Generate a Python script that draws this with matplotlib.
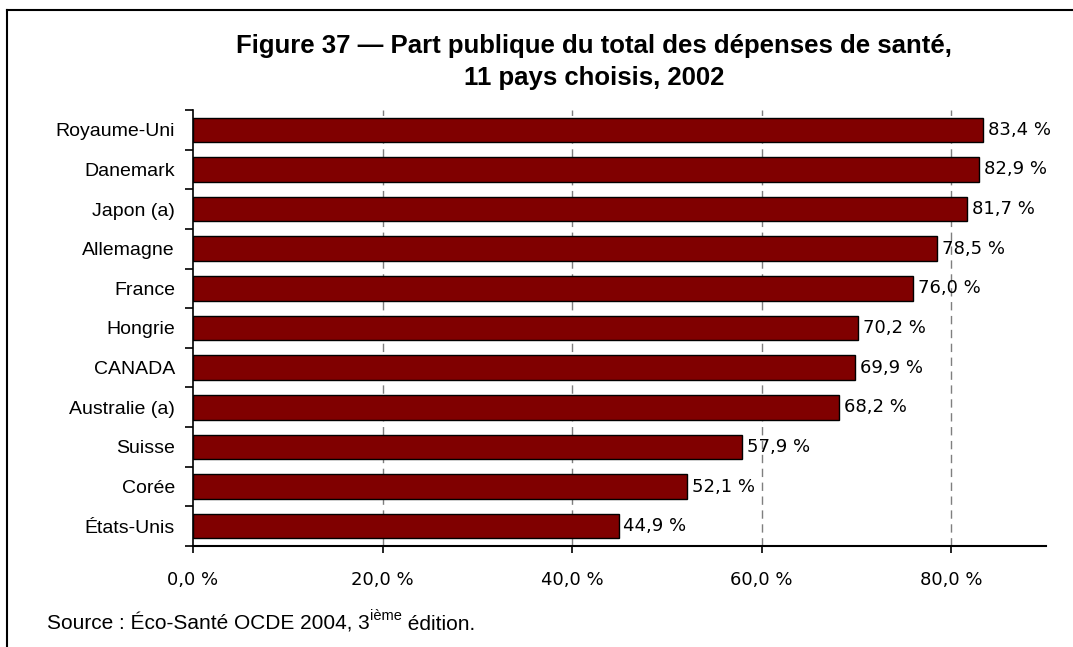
import matplotlib
matplotlib.use("Agg")
import matplotlib.pyplot as plt
from matplotlib.lines import Line2D

plt.rcParams['font.family'] = ['Liberation Sans', 'DejaVu Sans']

countries = ["Royaume-Uni", "Danemark", "Japon (a)", "Allemagne", "France",
             "Hongrie", "CANADA", "Australie (a)", "Suisse", "Corée", "États-Unis"]
values = [83.4, 82.9, 81.7, 78.5, 76.0, 70.2, 69.9, 68.2, 57.9, 52.1, 44.9]
xticks = [0, 20, 40, 60, 80]
xtick_labels = ["0,0 %", "20,0 %", "40,0 %", "60,0 %", "80,0 %"]
title_text = "Figure 37 — Part publique du total des dépenses de santé,\n11 pays choisis, 2002"

NUM_FONT = ["DejaVu Sans"]

W, H = 1073, 647
fig = plt.figure(figsize=(W / 100, H / 100), dpi=100)
ax = fig.add_axes([193 / W, 1 - 546 / H, (1046 - 193) / W, (546 - 110) / H])

n = len(countries)
ypos = list(range(n))[::-1]
ax.barh(ypos, values, height=0.62, color="#800000", edgecolor="black",
        linewidth=1.0, zorder=3)

ax.set_xlim(0, 90)
ax.set_ylim(-0.5, n - 0.5)

# dashed vertical gridlines behind bars
for xv in xticks[1:]:
    ax.axvline(xv, color="#7f7f7f", linestyle=(0, (6, 4)), linewidth=1.0, zorder=1)

# value labels
for y, v in zip(ypos, values):
    ax.annotate(f"{v:.1f} %".replace(".", ","), xy=(v, y), xytext=(3.5, 0),
                textcoords="offset points", va="center", ha="left",
                fontsize=13, family=NUM_FONT, color="black", zorder=4)

ax.set_xticks(xticks)
ax.set_xticklabels(xtick_labels, fontsize=13, family=NUM_FONT)
ax.tick_params(axis="x", direction="out", length=5, width=1.2, pad=13)

ax.set_yticks(ypos)
ax.set_yticklabels(countries, fontsize=14)
ax.tick_params(axis="y", which="major", length=0, pad=13)
ax.set_yticks([i - 0.5 for i in range(n + 1)], minor=True)
ax.tick_params(axis="y", which="minor", direction="out", length=6, width=1.2)

for s in ["top", "right"]:
    ax.spines[s].set_visible(False)
ax.spines["left"].set_linewidth(1.2)
ax.spines["bottom"].set_linewidth(1.5)

fig.text(594 / W, 1 - 62 / H, title_text, ha="center", va="center",
         fontsize=18.5, fontweight="bold", linespacing=1.38)

# frame lines on left and top
fig.add_artist(Line2D([7 / W, 7 / W], [0, 1 - 10 / H], transform=fig.transFigure,
                      color="black", linewidth=1.5))
fig.add_artist(Line2D([7 / W, 1], [1 - 10 / H, 1 - 10 / H], transform=fig.transFigure,
                      color="black", linewidth=1.5))

# source line with superscript
renderer = fig.canvas.get_renderer()
sy = 1 - 624 / H
t1 = fig.text(47 / W, sy, "Source : Éco-Santé OCDE 2004, 3", fontsize=15,
              va="center", ha="left")
bb = t1.get_window_extent(renderer)
t2 = fig.text(bb.x1 / W, sy + 8 / H, "ième", fontsize=10.5, va="center", ha="left")
bb2 = t2.get_window_extent(renderer)
fig.text(bb2.x1 / W, sy, " édition.", fontsize=15, va="center", ha="left")

fig.savefig("out.png", dpi=100)
